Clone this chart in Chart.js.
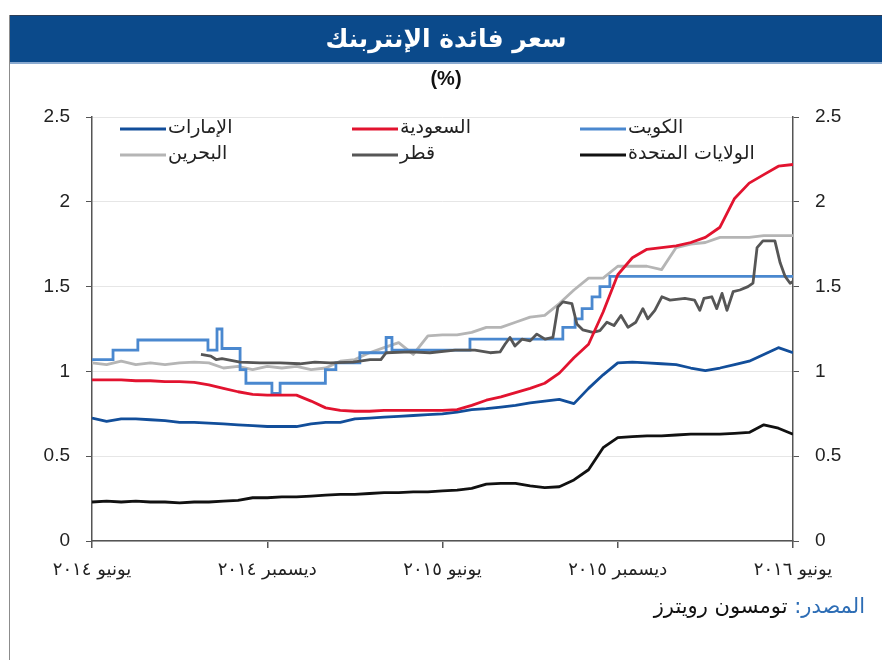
<!DOCTYPE html>
<html lang="ar">
<head>
<meta charset="utf-8">
<script src="https://cdn.jsdelivr.net/npm/chart.js@4.4.1/dist/chart.umd.min.js"></script>
<style>
  html, body { margin: 0; padding: 0; background: #fff; }
  #wrap { position: relative; width: 882px; height: 660px; overflow: hidden; }
  #chart { position: absolute; left: 0; top: 0; }
  #frame { position: absolute; left: 9px; top: 15px; width: 1px; height: 645px; background: #8c8c8c; }
  #title-bar {
    position: absolute; left: 10px; top: 15px; width: 872px; height: 46px;
    background: #0b4a8b; border-top: 1px solid #2c3e58; border-bottom: 2px solid #8aaad0;
  }
  #title {
    position: absolute; left: 10px; top: 24px; width: 872px; height: 40px; line-height: 40px;
    text-align: center; color: #fff; font: bold 25px 'DejaVu Sans', sans-serif;
  }
  #unit {
    position: absolute; left: 10px; top: 67px; width: 872px; text-align: center;
    font: bold 20px 'Liberation Sans', sans-serif; color: #111;
  }
  #source {
    position: absolute; right: 17px; top: 594px; direction: rtl; white-space: nowrap;
    font: 21px 'DejaVu Sans', sans-serif; color: #111;
  }
  #source .lbl { color: #2d6db5; }
</style>
</head>
<body>
<div id="wrap">
  <canvas id="chart" width="882" height="660"></canvas>
  <div id="frame"></div>
  <div id="title-bar"></div>
  <div id="title">سعر فائدة الإنتربنك</div>
  <div id="unit">(%)</div>
  <div id="source"><span class="lbl">المصدر:</span> تومسون رويترز</div>
</div>
<script>
// x axis: months since June 2014, one point every half month (Jun 2014 .. Jun 2016)
const months = Array.from({ length: 49 }, (_, i) => i / 2);
const tickMonths = [0, 6, 12, 18, 24];
const tickLabels = ['يونيو ٢٠١٤', 'ديسمبر ٢٠١٤', 'يونيو ٢٠١٥', 'ديسمبر ٢٠١٥', 'يونيو ٢٠١٦'];

const uae = [
  0.725, 0.705, 0.72, 0.72, 0.715, 0.71, 0.70, 0.70, 0.695, 0.69,
  0.685, 0.68, 0.675, 0.675, 0.675, 0.69, 0.70, 0.70, 0.72, 0.725,
  0.73, 0.735, 0.74, 0.745, 0.75, 0.76, 0.775, 0.78, 0.79, 0.80,
  0.815, 0.825, 0.835, 0.81, 0.90, 0.98, 1.05, 1.055, 1.05, 1.045,
  1.04, 1.02, 1.005, 1.02, 1.04, 1.06, 1.10, 1.14, 1.11
];
const saudi = [
  0.95, 0.95, 0.95, 0.945, 0.945, 0.94, 0.94, 0.935, 0.92, 0.90,
  0.88, 0.865, 0.86, 0.86, 0.86, 0.825, 0.785, 0.77, 0.765, 0.765,
  0.77, 0.77, 0.77, 0.77, 0.77, 0.775, 0.80, 0.83, 0.85, 0.875,
  0.90, 0.93, 0.99, 1.08, 1.16, 1.35, 1.57, 1.67, 1.72, 1.73,
  1.74, 1.76, 1.79, 1.85, 2.02, 2.11, 2.16, 2.21, 2.22
];
const bahrain = [
  1.05, 1.04, 1.06, 1.04, 1.05, 1.04, 1.05, 1.055, 1.05, 1.02,
  1.03, 1.01, 1.03, 1.02, 1.03, 1.01, 1.02, 1.06, 1.07, 1.11,
  1.14, 1.17, 1.10, 1.21, 1.215, 1.215, 1.23, 1.26, 1.26, 1.29,
  1.32, 1.33, 1.40, 1.48, 1.55, 1.55, 1.62, 1.62, 1.62, 1.60,
  1.73, 1.75, 1.76, 1.79, 1.79, 1.79, 1.80, 1.80, 1.80
];
const usa = [
  0.23, 0.235, 0.23, 0.235, 0.23, 0.23, 0.225, 0.23, 0.23, 0.235,
  0.24, 0.255, 0.255, 0.26, 0.26, 0.265, 0.27, 0.275, 0.275, 0.28,
  0.285, 0.285, 0.29, 0.29, 0.295, 0.30, 0.31, 0.335, 0.34, 0.34,
  0.325, 0.315, 0.32, 0.36, 0.42, 0.55, 0.61, 0.615, 0.62, 0.62,
  0.625, 0.63, 0.63, 0.63, 0.635, 0.64, 0.685, 0.665, 0.63
];
// Qatar starts later and is noisier, so it has its own dates
const qatarMonths = [
  3.73, 4.07, 4.25, 4.45, 5.07, 5.75, 6.44, 7.12, 7.63, 8.15,
  8.94, 9.52, 9.89, 10.07, 10.89, 11.57, 12.43, 13.11, 13.63, 13.97,
  14.14, 14.31, 14.48, 14.72, 15.0, 15.23, 15.51, 15.78, 15.95, 16.12,
  16.43, 16.6, 16.8, 17.15, 17.39, 17.63, 17.87, 18.11, 18.35, 18.62,
  18.86, 19.03, 19.27, 19.51, 19.79, 20.3, 20.63, 20.81, 20.95, 21.22,
  21.39, 21.57, 21.74, 21.95, 22.18, 22.46, 22.63, 22.77, 22.97, 23.38,
  23.56, 23.73, 23.9, 24
];
const qatar = [
  1.10, 1.09, 1.07, 1.075, 1.055, 1.05, 1.05, 1.045, 1.055, 1.05,
  1.055, 1.07, 1.07, 1.11, 1.115, 1.11, 1.125, 1.125, 1.11, 1.115,
  1.16, 1.20, 1.15, 1.19, 1.18, 1.22, 1.19, 1.20, 1.38, 1.41,
  1.40, 1.28, 1.245, 1.23, 1.24, 1.29, 1.27, 1.33, 1.26, 1.29,
  1.37, 1.31, 1.36, 1.44, 1.42, 1.43, 1.42, 1.36, 1.43, 1.44,
  1.37, 1.46, 1.36, 1.47, 1.48, 1.50, 1.52, 1.73, 1.77, 1.77,
  1.64, 1.56, 1.52, 1.53
];
// Kuwait moves in steps: month of each change and the new level
const kuwaitMonths = [
  0, 0.72, 1.57, 3.97, 4.28, 4.45, 5.07, 5.27, 6.16, 6.44,
  7.99, 8.35, 9.17, 10.07, 10.27, 12.94, 16.12, 16.54, 16.78, 17.12,
  17.39, 17.73, 24
];
const kuwait = [
  1.07, 1.125, 1.185, 1.125, 1.25, 1.135, 1.01, 0.93, 0.87, 0.93,
  1.01, 1.05, 1.11, 1.2, 1.125, 1.19, 1.26, 1.31, 1.37, 1.44,
  1.50, 1.56, 1.56
];

const pairs = (xs, ys) => xs.map((x, i) => ({ x, y: ys[i] }));

const arabicFont = "'DejaVu Sans', sans-serif";
const numFont = "'Liberation Sans', Arial, sans-serif";

const legendCols = [120, 352, 580];
const legendRows = [129, 155];

const gridLegend = {
  id: 'gridLegend',
  afterDraw(chart) {
    const ctx = chart.ctx;
    ctx.save();
    ctx.font = '19px ' + arabicFont;
    ctx.textBaseline = 'middle';
    ctx.textAlign = 'left';
    chart.data.datasets.forEach((ds, i) => {
      const x = legendCols[i % 3];
      const y = legendRows[Math.floor(i / 3)];
      ctx.strokeStyle = ds.borderColor;
      ctx.lineWidth = 3;
      ctx.beginPath();
      ctx.moveTo(x, y);
      ctx.lineTo(x + 46, y);
      ctx.stroke();
      ctx.fillStyle = '#222';
      ctx.fillText(ds.label, x + 48, y - 1);
    });
    ctx.restore();
  }
};

const yTicks = {
  stepSize: 0.5,
  padding: 16,
  color: '#222',
  font: { family: numFont, size: 19 },
  callback: v => String(v)
};

new Chart(document.getElementById('chart'), {
  type: 'line',
  data: {
    datasets: [
      { label: 'الإمارات', data: pairs(months, uae), borderColor: '#124e9a', order: 3 },
      { label: 'السعودية', data: pairs(months, saudi), borderColor: '#e2132f', order: 1 },
      { label: 'الكويت', data: pairs(kuwaitMonths, kuwait), borderColor: '#4a88cf', stepped: true, borderJoinStyle: 'miter', order: 4 },
      { label: 'البحرين', data: pairs(months, bahrain), borderColor: '#b5b5b5', order: 5 },
      { label: 'قطر', data: pairs(qatarMonths, qatar), borderColor: '#565656', order: 2 },
      { label: 'الولايات المتحدة', data: pairs(months, usa), borderColor: '#111111', order: 2 }
    ]
  },
  options: {
    responsive: false,
    animation: false,
    layout: { padding: { top: 117, left: 0, right: 0, bottom: 0 } },
    plugins: { legend: { display: false }, tooltip: { enabled: false } },
    elements: {
      point: { radius: 0 },
      line: { borderWidth: 2.8, tension: 0, borderJoinStyle: 'round', fill: false }
    },
    scales: {
      x: {
        type: 'linear',
        min: 0,
        max: 24,
        afterBuildTicks: scale => { scale.ticks = tickMonths.map(v => ({ value: v })); },
        afterFit: scale => { scale.height = 119; },
        grid: { drawOnChartArea: false, tickLength: 7, color: '#555', lineWidth: 1.5 },
        border: { color: '#555', width: 1.5 },
        ticks: {
          padding: 12,
          autoSkip: false,
          maxRotation: 0,
          color: '#222',
          font: { family: arabicFont, size: 18 },
          callback: v => tickLabels[tickMonths.indexOf(v)]
        }
      },
      y: {
        position: 'left',
        min: 0,
        max: 2.5,
        afterFit: scale => { scale.width = 92; },
        grid: { color: '#e6e6e6', tickColor: '#555', tickLength: 6, lineWidth: 1 },
        border: { color: '#555', width: 1.5 },
        ticks: yTicks
      },
      yRight: {
        position: 'right',
        min: 0,
        max: 2.5,
        afterFit: scale => { scale.width = 89; },
        grid: { drawOnChartArea: false, color: '#555', tickLength: 6, lineWidth: 1 },
        border: { color: '#555', width: 1.5 },
        ticks: yTicks
      }
    }
  },
  plugins: [gridLegend]
});
</script>
</body>
</html>
